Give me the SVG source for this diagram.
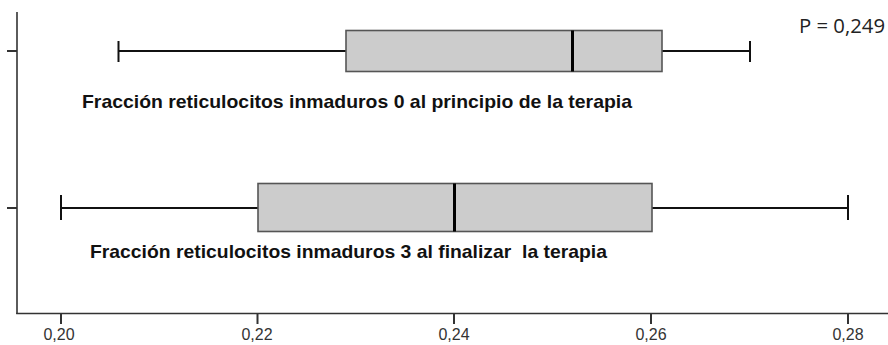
<svg xmlns="http://www.w3.org/2000/svg" width="888" height="345" viewBox="0 0 888 345">
<style>
.axis{stroke:#333;stroke-width:1.6;fill:none}
.tick{stroke:#333;stroke-width:2}
.ticklbl{font-family:"Liberation Sans",Arial,sans-serif;font-size:16px;fill:#333;text-anchor:middle}
.box{fill:#cccccc;stroke:#555;stroke-width:1.6}
.whisk{stroke:#111;stroke-width:2;fill:none}
.med{stroke:#000;stroke-width:3}
.lbl{font-family:"Liberation Sans",Arial,sans-serif;font-weight:bold;font-size:19px;fill:#111}
.p{font-family:"Open Sans","Liberation Sans",sans-serif;font-size:20px;fill:#222}
</style>
<rect width="888" height="345" fill="#fff"/>
<g id="axes">
<line class="axis" x1="17" y1="12" x2="17" y2="314"/>
<line class="axis" x1="16.2" y1="313.5" x2="888" y2="313.5"/>
<line class="tick" x1="7" y1="51" x2="17" y2="51"/>
<line class="tick" x1="7" y1="208" x2="17" y2="208"/>
<line class="tick" x1="61" y1="314" x2="61" y2="324"/>
<line class="tick" x1="257.5" y1="314" x2="257.5" y2="324"/>
<line class="tick" x1="454" y1="314" x2="454" y2="324"/>
<line class="tick" x1="651" y1="314" x2="651" y2="324"/>
<line class="tick" x1="848" y1="314" x2="848" y2="324"/>
<text class="ticklbl" x="59" y="340">0,20</text>
<text class="ticklbl" x="257" y="340">0,22</text>
<text class="ticklbl" x="454" y="340">0,24</text>
<text class="ticklbl" x="651" y="340">0,26</text>
<text class="ticklbl" x="848" y="340">0,28</text>
</g>
<g id="connectors">
<line class="whisk" x1="118.5" y1="51" x2="346" y2="51"/>
<line class="whisk" x1="662" y1="51" x2="750" y2="51"/>
<line class="whisk" x1="118.5" y1="41" x2="118.5" y2="62"/>
<line class="whisk" x1="750" y1="41" x2="750" y2="62"/>
<line class="whisk" x1="61" y1="208" x2="258" y2="208"/>
<line class="whisk" x1="652" y1="208" x2="848" y2="208"/>
<line class="whisk" x1="61" y1="195" x2="61" y2="220"/>
<line class="whisk" x1="848" y1="195" x2="848" y2="220"/>
</g>
<g id="box0">
<rect class="box" x="346" y="30.5" width="316" height="41"/>
<line class="med" x1="572.5" y1="30.5" x2="572.5" y2="71.5"/>
<text class="lbl" x="82" y="107.5" textLength="550" lengthAdjust="spacingAndGlyphs">Fracción reticulocitos inmaduros 0 al principio de la terapia</text>
</g>
<g id="box3">
<rect class="box" x="258" y="183.5" width="394" height="48"/>
<line class="med" x1="454.5" y1="183.5" x2="454.5" y2="231.5"/>
<text class="lbl" x="90" y="258" textLength="517" lengthAdjust="spacingAndGlyphs" xml:space="preserve">Fracción reticulocitos inmaduros 3 al finalizar  la terapia</text>
</g>
<g id="pvalue">
<text class="p" x="799" y="33" textLength="86" lengthAdjust="spacingAndGlyphs">P = 0,249</text>
</g>
</svg>
